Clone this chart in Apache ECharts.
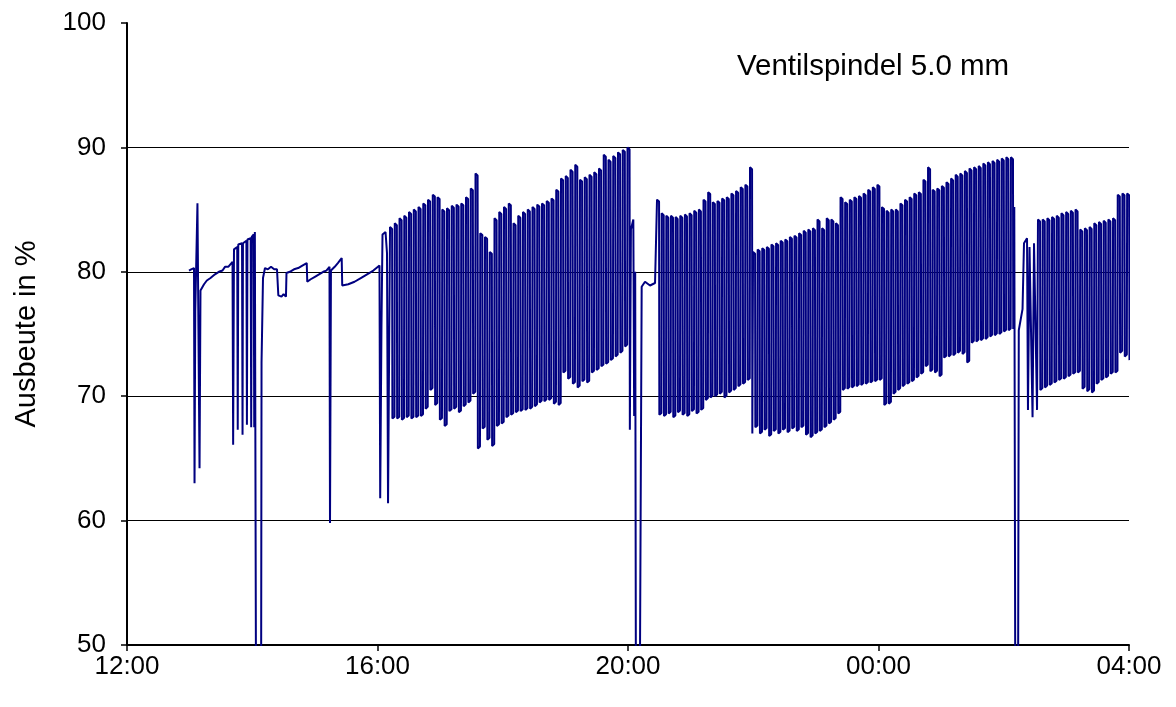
<!DOCTYPE html>
<html><head><meta charset="utf-8">
<script src="https://cdn.jsdelivr.net/npm/echarts@6/dist/echarts.min.js"></script>
<style>html,body{margin:0;padding:0;background:#fff}#c{width:1176px;height:707px}</style>
</head><body><div id="c"></div>
<script>
// time axis: minutes since 12:00
const xTickLabels = ['12:00', '16:00', '20:00', '00:00', '04:00'];
const yTickValues = [50, 60, 70, 80, 90, 100];
const annotation = 'Ventilspindel 5.0 mm';
const yName = 'Ausbeute in %';

// quiet part before the cyclic operation: [minutes, value]
const leadPoints = [[59.4,80.1],[61.5,80.2],[63.2,80.3],[64.2,80.3],[64.7,63.0],[65.4,76.8],[66.6,76.9],[67.5,85.5],[68.7,85.4],[69.5,64.2],[70.4,78.5],[73.8,79.0],[76.5,79.3],[80,79.5],[84.3,79.8],[88,80.0],[91.5,80.1],[93.9,80.4],[97,80.4],[101.1,80.8],
[101.7,66.1],[102.5,81.8],[105.6,82.0],[106.1,67.3],[106.6,82.2],[110.2,82.3],[110.7,66.9],[111.1,82.3],[114.4,82.5],[114.9,67.7],[115.4,82.6],[118.5,82.7],[119.0,67.5],[119.5,82.8],[121.4,83.0],[121.9,67.5],[122.5,83.2],[123.3,83.2],[123.8,40],[128.4,40],[128.9,72.7],[130.3,79.5],[132.2,80.3],[135,80.2],[138,80.4],[141,80.2],[143.7,80.2],[145.0,78.1],[148,78.0],[150,78.2],[152.3,78.0],[152.8,79.9],[156,80.0],[160,80.2],[164,80.3],[168,80.5],[172.2,80.7],[172.7,79.2],[176,79.4],[180,79.6],[184,79.8],[188,80.0],[191,80.1],[194.0,80.4],[194.5,59.8],[195.4,80.1],[199,80.4],[202,80.7],[205.7,81.1],[206.2,78.9],[212,79.0],[218,79.2],[224,79.5],[230,79.8],[236,80.1],[241.9,80.5],[242.6,61.8],[243.8,75.6],[244.8,83.0],[247.7,83.2],[249.1,81.5],[250.1,61.4]];

// cyclic block 1 (16:12 - 19:59)
const saw1Start = 252.0, saw1End = 479.5;
const saw1Peaks = [83.6,83.9,84.3,84.5,84.8,85.0,85.2,85.5,85.8,86.2, 86.0,85.0,85.1,85.3,85.4,85.5,86.0,86.7,87.9,83.1, 82.8,81.6,84.3,84.8,85.2,85.5,83.9,84.5,84.8,85.0, 85.2,85.4,85.5,85.7,85.9,86.6,87.5,87.7,88.2,88.6, 87.4,87.6,87.8,88.0,88.3,89.4,89.0,89.3,89.6,89.8, 90.0];
const saw1Troughs = [68.2,68.2,68.1,68.3,68.2,68.3,68.4,69.0,70.5,69.3, 68.1,67.6,68.8,69.0,68.7,69.2,69.5,70.2,65.8,67.4, 66.5,66.0,67.6,67.8,68.3,68.5,68.7,68.8,68.9,69.0, 69.2,69.5,69.6,69.7,69.4,69.3,71.9,71.4,71.0,70.7, 71.2,71.1,71.9,72.1,72.4,72.6,72.9,73.2,73.5,74.0, 67.3];

const gap1Points = [[482.8,83.4],[485.1,84.2],[485.9,68.4],[486.9,80.0],[487.7,40],[491.0,40],[493.1,78.8],[496.3,79.2],[501.1,78.9],[505.9,79.1],[507.3,79.0]];

// cyclic block 2
const saw2Start = 507.8, saw2End = 596.9;
const saw2Peaks = [85.8,84.7,84.5,84.5,84.4,84.5,84.6,84.7,84.9,85.0,85.8,86.4,85.6,85.7,85.9,86.0,86.3,86.5,86.8,87.0,88.4];
const saw2Troughs = [68.5,68.4,68.6,68.3,68.7,68.5,68.4,68.8,68.6,68.9,69.7,69.9,70.0,70.2,69.9,70.3,70.5,70.8,71.0,71.3,67.0];

// cyclic block 3
const saw3Start = 599.8, saw3End = 846.9;
const saw3Peaks = [81.6,81.8,81.9,82.0,82.2,82.3,82.5,82.6,82.8,82.9, 83.1,83.3,83.4,83.5,84.2,83.5,84.3,84.2,83.9,86.0, 85.6,85.8,86.0,86.1,86.3,86.6,86.8,87.0,85.2,84.9, 85.0,85.0,85.5,85.8,86.0,86.3,86.4,87.4,88.4,86.6, 86.7,86.9,87.2,87.5,87.8,87.9,88.1,88.3,88.4,88.5, 88.7,88.8,88.9,89.0,89.1,89.2,89.2];
const saw3Troughs = [67.5,67.0,67.3,66.8,67.2,67.0,67.3,67.1,67.4,67.2, 67.5,66.9,66.7,67.0,67.2,67.5,67.8,68.1,68.6,70.5, 70.6,70.7,70.8,70.9,71.0,71.1,71.2,71.3,69.3,69.4, 70.2,70.5,70.8,71.0,71.2,71.5,71.8,72.4,72.0,71.9, 71.6,73.1,73.2,73.3,73.5,73.4,72.7,74.3,74.4,74.5, 74.6,74.8,74.9,75.0,75.2,75.3,75.4];

const gap3Points = [[850.1,85.2],[851.2,40],[853.6,40],[854.4,75.3],[856.5,76.3],[858.0,77.0],[859.4,82.3],[862.3,82.7],[863.2,68.9],[864.7,82.0],[866.6,82.0],[867.6,68.3],[869.0,82.3],[870.9,82.3],[871.9,68.9]];

// cyclic block 4
const saw4Start = 872.8, saw4End = 958.2;
const saw4Peaks = [84.2,84.2,84.3,84.4,84.5,84.7,84.8,84.9,85.0,83.4,83.5,83.6,83.9,84.0,84.1,84.2,84.3,86.2,86.3,86.3];
const saw4Troughs = [70.5,70.7,70.9,71.1,71.3,71.4,71.6,71.8,71.9,70.6,70.4,70.3,71.0,71.3,71.5,71.8,71.9,73.5,73.2,72.9];

// each cycle: fast rise to peak, short hold, fast drop, hold at the low value
function cycles(start, end, peaks, troughs) {
  const n = peaks.length, p = (end - start) / (n - 1), out = [];
  for (let i = 0; i < n; i++) {
    const t = start + i * p;
    out.push([t, peaks[i]]);
    out.push([t + 0.44 * p, peaks[i] - 0.15]);
    out.push([t + 0.5 * p, troughs[i]]);
    if (i < n - 1) out.push([t + 0.94 * p, troughs[i] + 0.15]);
  }
  return out;
}

const seriesData = [].concat(
  leadPoints,
  cycles(saw1Start, saw1End, saw1Peaks, saw1Troughs),
  gap1Points,
  cycles(saw2Start, saw2End, saw2Peaks, saw2Troughs),
  cycles(saw3Start, saw3End, saw3Peaks, saw3Troughs),
  gap3Points,
  cycles(saw4Start, saw4End, saw4Peaks, saw4Troughs)
);

const font = 'Arial, "Liberation Sans", sans-serif';
const chart = echarts.init(document.getElementById('c'), null, {renderer: 'canvas'});
chart.setOption({
  animation: false,
  backgroundColor: '#fff',
  grid: {left: 127, right: 47, top: 23, bottom: 62},
  xAxis: {
    type: 'value', min: 0, max: 960, interval: 240,
    axisLine: {show: true, lineStyle: {color: '#000', width: 2}},
    axisTick: {show: true, length: 6, lineStyle: {color: '#000', width: 1.5}},
    splitLine: {show: false},
    axisLabel: {color: '#000', fontSize: 26, fontFamily: font, margin: 9,
      formatter: v => xTickLabels[Math.round(v / 240)]}
  },
  yAxis: {
    type: 'value', min: yTickValues[0], max: yTickValues[yTickValues.length - 1], interval: 10,
    name: yName, nameLocation: 'middle', nameGap: 86,
    nameTextStyle: {color: '#000', fontSize: 29, fontFamily: font},
    axisLine: {show: true, lineStyle: {color: '#000', width: 2}},
    axisTick: {show: true, length: 6, lineStyle: {color: '#000', width: 1.5}},
    splitLine: {show: true, showMinLine: false, showMaxLine: false, lineStyle: {color: '#000', width: 1}},
    axisLabel: {color: '#000', fontSize: 26, fontFamily: font, margin: 21}
  },
  graphic: [{type: 'text', left: 737, top: 52,
    style: {text: annotation, fontSize: 29.5, fontFamily: font, fill: '#000'}}],
  series: [{
    type: 'line', data: seriesData, showSymbol: false, symbol: 'none',
    clip: true, lineStyle: {color: '#000080', width: 2}, z: 3
  }]
});
</script></body></html>
